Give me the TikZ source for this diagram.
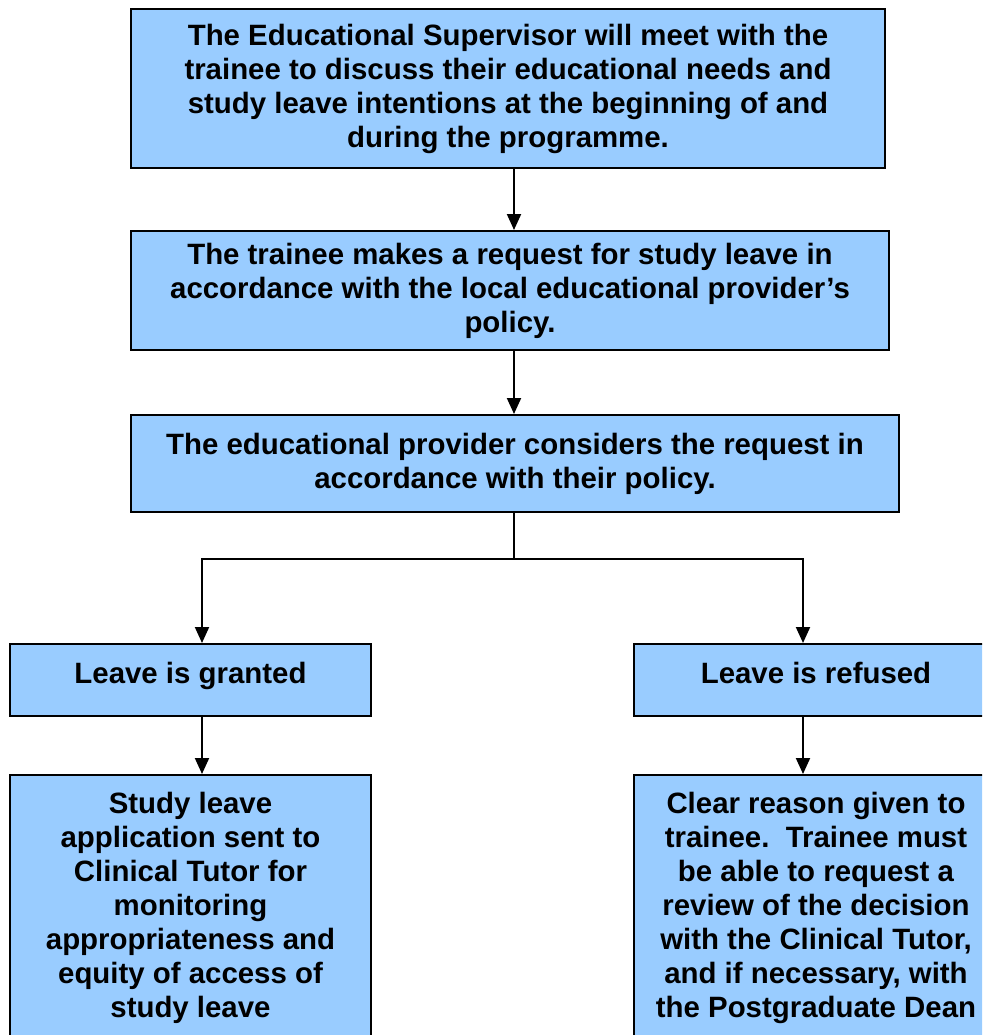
\documentclass[tikz,border=0pt]{standalone}
\usepackage{fontspec}
\setmainfont{Liberation Sans}
\usetikzlibrary{arrows.meta}
\definecolor{boxblue}{HTML}{99CCFF}
\tikzset{
  flowbox/.style={draw=black, line width=2pt, fill=boxblue, inner sep=0pt, align=center,
    font=\fontsize{29.4}{34}\selectfont\bfseries},
  onelinebox/.style={flowbox, text height=22pt, text depth=16pt},
  arr/.style={line width=2pt, -{Triangle[length=16pt,width=14pt]}},
  plain/.style={line width=2pt}
}
\begin{document}
\begin{tikzpicture}[x=1pt,y=-1pt]
\useasboundingbox (0,0) rectangle (982,1035);
\clip (0,0) rectangle (982,1035);
\node[flowbox, minimum width=754pt, minimum height=159pt] (b1) at (508,88.5)
  {The Educational Supervisor will meet with the\\trainee to discuss their educational needs and\\study leave intentions at the beginning of and\\during the programme.};
\node[flowbox, minimum width=758pt, minimum height=119pt] (b2) at (510,290.5)
  {The trainee makes a request for study leave in\\accordance with the local educational provider’s\\policy.};
\node[flowbox, minimum width=768pt, minimum height=97pt] (b3) at (515,463.5)
  {The educational provider considers the request in\\accordance with their policy.};
\node[onelinebox, minimum width=361pt, minimum height=72pt] (granted) at (190.5,680)
  {Leave is granted};
\node[onelinebox, minimum width=364pt, minimum height=72pt] (refused) at (816,680)
  {Leave is refused};
\node[flowbox, minimum width=361pt, minimum height=265pt] (study) at (190.5,907.5)
  {Study leave\\application sent to\\Clinical Tutor for\\monitoring\\appropriateness and\\equity of access of\\study leave};
\node[flowbox, minimum width=364pt, minimum height=265pt] (clear) at (816,907.5)
  {Clear reason given to\\trainee.\ \ Trainee must\\be able to request a\\review of the decision\\with the Clinical Tutor,\\and if necessary, with\\the Postgraduate Dean};
\coordinate (mid) at (514,0);
\coordinate (split) at (514,559);
\coordinate (gl) at (202,559);
\coordinate (rl) at (803,559);
\draw[arr] (b1.south -| mid) -- (b2.north -| mid);
\draw[arr] (b2.south -| mid) -- (b3.north -| mid);
\draw[plain] (b3.south -| split) -- (split);
\draw[arr] (split) -- (gl) -- (gl |- granted.north);
\draw[arr] (split) -- (rl) -- (rl |- refused.north);
\draw[arr] (gl |- granted.south) -- (gl |- study.north);
\draw[arr] (rl |- refused.south) -- (rl |- clear.north);
\end{tikzpicture}
\end{document}
